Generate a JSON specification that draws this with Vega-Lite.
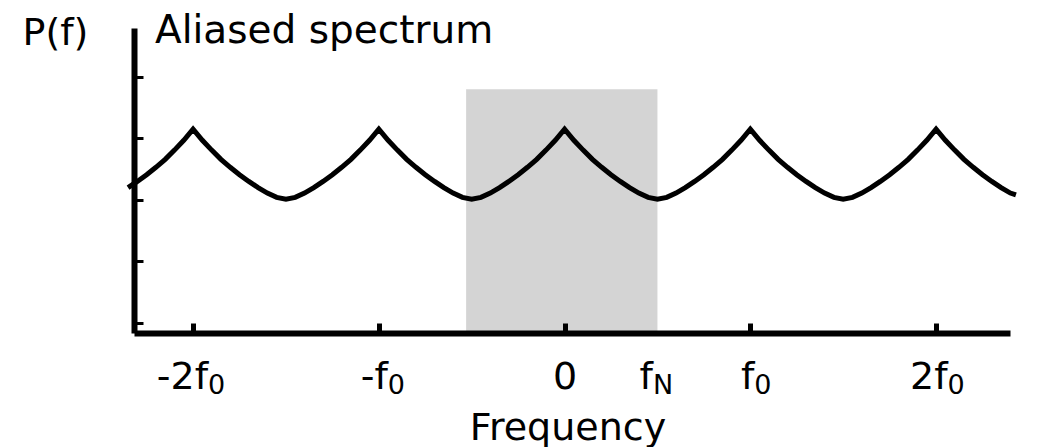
{
  "$schema": "https://vega.github.io/schema/vega-lite/v6.json",
  "width": 876,
  "height": 305,
  "autosize": "none",
  "padding": {"left": 134, "top": 28, "right": 28, "bottom": 114},
  "config": {"font": "DejaVu Sans", "view": {"stroke": null}},
  "title": {
    "text": "Aliased spectrum",
    "anchor": "start",
    "frame": "group",
    "fontSize": 39,
    "fontWeight": "normal",
    "font": "DejaVu Sans",
    "color": "black",
    "baseline": "alphabetic",
    "offset": 0,
    "dx": 21,
    "dy": 68
  },
  "datasets": {
    "band": [{"f1": -0.53, "f2": 0.5, "p1": -0.17, "p2": 3.8}],
    "spectrum": [
      {"f": -2.35, "p": 2.20}, {"f": -2.30, "p": 2.30}, {"f": -2.25, "p": 2.41}, {"f": -2.20, "p": 2.53},
      {"f": -2.15, "p": 2.66}, {"f": -2.10, "p": 2.81}, {"f": -2.05, "p": 2.97}, {"f": -2.00, "p": 3.15},
      {"f": -1.95, "p": 2.97}, {"f": -1.90, "p": 2.81}, {"f": -1.85, "p": 2.66}, {"f": -1.80, "p": 2.53},
      {"f": -1.75, "p": 2.41}, {"f": -1.70, "p": 2.30}, {"f": -1.65, "p": 2.20}, {"f": -1.60, "p": 2.11},
      {"f": -1.55, "p": 2.04}, {"f": -1.50, "p": 2.01}, {"f": -1.45, "p": 2.04}, {"f": -1.40, "p": 2.11},
      {"f": -1.35, "p": 2.20}, {"f": -1.30, "p": 2.30}, {"f": -1.25, "p": 2.41}, {"f": -1.20, "p": 2.53},
      {"f": -1.15, "p": 2.66}, {"f": -1.10, "p": 2.81}, {"f": -1.05, "p": 2.97}, {"f": -1.00, "p": 3.15},
      {"f": -0.95, "p": 2.97}, {"f": -0.90, "p": 2.81}, {"f": -0.85, "p": 2.66}, {"f": -0.80, "p": 2.53},
      {"f": -0.75, "p": 2.41}, {"f": -0.70, "p": 2.30}, {"f": -0.65, "p": 2.20}, {"f": -0.60, "p": 2.11},
      {"f": -0.55, "p": 2.04}, {"f": -0.50, "p": 2.01}, {"f": -0.45, "p": 2.04}, {"f": -0.40, "p": 2.11},
      {"f": -0.35, "p": 2.20}, {"f": -0.30, "p": 2.30}, {"f": -0.25, "p": 2.41}, {"f": -0.20, "p": 2.53},
      {"f": -0.15, "p": 2.66}, {"f": -0.10, "p": 2.81}, {"f": -0.05, "p": 2.97}, {"f": 0.00, "p": 3.15},
      {"f": 0.05, "p": 2.97}, {"f": 0.10, "p": 2.81}, {"f": 0.15, "p": 2.66}, {"f": 0.20, "p": 2.53},
      {"f": 0.25, "p": 2.41}, {"f": 0.30, "p": 2.30}, {"f": 0.35, "p": 2.20}, {"f": 0.40, "p": 2.11},
      {"f": 0.45, "p": 2.04}, {"f": 0.50, "p": 2.01}, {"f": 0.55, "p": 2.04}, {"f": 0.60, "p": 2.11},
      {"f": 0.65, "p": 2.20}, {"f": 0.70, "p": 2.30}, {"f": 0.75, "p": 2.41}, {"f": 0.80, "p": 2.53},
      {"f": 0.85, "p": 2.66}, {"f": 0.90, "p": 2.81}, {"f": 0.95, "p": 2.97}, {"f": 1.00, "p": 3.15},
      {"f": 1.05, "p": 2.97}, {"f": 1.10, "p": 2.81}, {"f": 1.15, "p": 2.66}, {"f": 1.20, "p": 2.53},
      {"f": 1.25, "p": 2.41}, {"f": 1.30, "p": 2.30}, {"f": 1.35, "p": 2.20}, {"f": 1.40, "p": 2.11},
      {"f": 1.45, "p": 2.04}, {"f": 1.50, "p": 2.01}, {"f": 1.55, "p": 2.04}, {"f": 1.60, "p": 2.11},
      {"f": 1.65, "p": 2.20}, {"f": 1.70, "p": 2.30}, {"f": 1.75, "p": 2.41}, {"f": 1.80, "p": 2.53},
      {"f": 1.85, "p": 2.66}, {"f": 1.90, "p": 2.81}, {"f": 1.95, "p": 2.97}, {"f": 2.00, "p": 3.15},
      {"f": 2.05, "p": 2.97}, {"f": 2.10, "p": 2.81}, {"f": 2.15, "p": 2.66}, {"f": 2.20, "p": 2.53},
      {"f": 2.25, "p": 2.41}, {"f": 2.30, "p": 2.30}, {"f": 2.35, "p": 2.20}, {"f": 2.40, "p": 2.11},
      {"f": 2.43, "p": 2.08}
    ]
  },
  "layer": [
    {
      "data": {"name": "band"},
      "mark": {"type": "rect", "color": "#d4d4d4"},
      "encoding": {
        "x": {
          "field": "f1", "type": "quantitative",
          "scale": {"domain": [-2.318, 2.398], "nice": false, "zero": false},
          "axis": {
            "orient": "bottom",
            "values": [-2, -1, 0.5, 1, 2],
            "labelExpr": "datum.value == 0.5 ? 'N' : '0'",
            "domain": false,
            "ticks": false,
            "grid": false,
            "title": null,
            "zindex": 2,
            "labelFont": "DejaVu Sans",
            "labelFontSize": 27,
            "labelColor": "black",
            "labelAlign": "left",
            "labelBaseline": "alphabetic",
            "labelPadding": 60,
            "labelOverlap": false,
            "labelFlush": false,
            "labelBound": false,
            "labelOffset": {
              "condition": [
                {"test": "datum.value == -2", "value": 14.5},
                {"test": "datum.value == -1", "value": 8.5},
                {"test": "datum.value == 0.5", "value": -5},
                {"test": "datum.value == 1", "value": 3.5}
              ],
              "value": 11
            }
          }
        },
        "x2": {"field": "f2"},
        "y": {
          "field": "p1", "type": "quantitative",
          "scale": {"domain": [-0.17, 4.8], "nice": false, "zero": false},
          "axis": {
            "values": [0, 1, 2, 3, 4],
            "labels": false,
            "domainColor": "black",
            "domainWidth": 6,
            "tickColor": "black",
            "tickWidth": 3,
            "tickSize": -9,
            "grid": false,
            "zindex": 2,
            "title": "P(f)",
            "titleFont": "DejaVu Sans",
            "titleFontSize": 38,
            "titleFontWeight": "normal",
            "titleColor": "black",
            "titleAngle": 0,
            "titleAlign": "left",
            "titleBaseline": "alphabetic",
            "titleX": -112,
            "titleY": 16
          }
        },
        "y2": {"field": "p2"}
      }
    },
    {
      "data": {"name": "spectrum"},
      "mark": {"type": "line", "color": "black", "strokeWidth": 5, "strokeJoin": "miter", "clip": false},
      "encoding": {
        "x": {
          "field": "f", "type": "quantitative",
          "scale": {"domain": [-2.318, 2.398], "nice": false, "zero": false},
          "axis": {
            "orient": "bottom",
            "values": [-2, -1, 0, 0.5, 1, 2],
            "labelExpr": "datum.value == -2 ? '-2f' : datum.value == -1 ? '-f' : datum.value == 0 ? '0' : datum.value == 2 ? '2f' : 'f'",
            "domainColor": "black",
            "domainWidth": 6,
            "tickColor": "black",
            "tickWidth": 5,
            "tickSize": -10,
            "tickOpacity": {"condition": {"test": "datum.value == 0.5", "value": 0}, "value": 1},
            "grid": false,
            "zindex": 2,
            "labelFont": "DejaVu Sans",
            "labelFontSize": 38,
            "labelColor": "black",
            "labelAlign": {"condition": {"test": "datum.value == 0", "value": "center"}, "value": "right"},
            "labelBaseline": "alphabetic",
            "labelPadding": 65,
            "labelOverlap": false,
            "labelFlush": false,
            "labelBound": false,
            "labelOffset": {
              "condition": [
                {"test": "datum.value == -2", "value": 14.5},
                {"test": "datum.value == -1", "value": 8.5},
                {"test": "datum.value == 0", "value": 0},
                {"test": "datum.value == 0.5", "value": -5},
                {"test": "datum.value == 1", "value": 3.5}
              ],
              "value": 11
            },
            "title": "Frequency",
            "titleFont": "DejaVu Sans",
            "titleFontSize": 38,
            "titleFontWeight": "normal",
            "titleColor": "black",
            "titleAlign": "center",
            "titleBaseline": "alphabetic",
            "titleX": 433.5,
            "titleY": 106
          }
        },
        "y": {
          "field": "p", "type": "quantitative",
          "scale": {"domain": [-0.17, 4.8], "nice": false, "zero": false},
          "axis": {
            "values": [0, 1, 2, 3, 4],
            "labels": false,
            "domainColor": "black",
            "domainWidth": 6,
            "tickColor": "black",
            "tickWidth": 3,
            "tickSize": -9,
            "grid": false,
            "zindex": 2,
            "title": "P(f)",
            "titleFont": "DejaVu Sans",
            "titleFontSize": 38,
            "titleFontWeight": "normal",
            "titleColor": "black",
            "titleAngle": 0,
            "titleAlign": "left",
            "titleBaseline": "alphabetic",
            "titleX": -112,
            "titleY": 16
          }
        }
      }
    }
  ],
  "resolve": {"axis": {"x": "independent"}}
}
